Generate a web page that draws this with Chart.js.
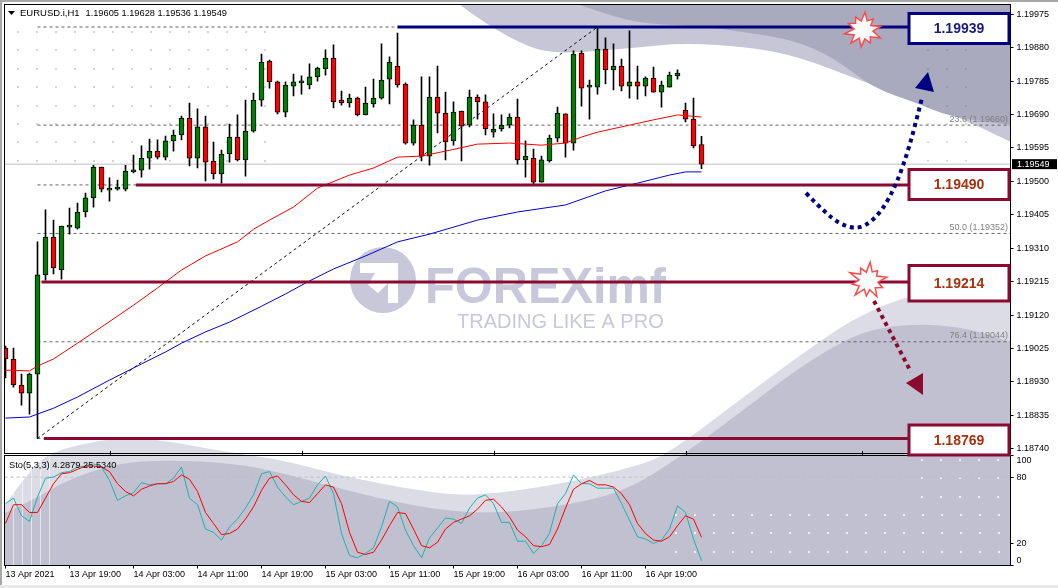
<!DOCTYPE html>
<html>
<head>
<meta charset="utf-8">
<title>EURUSD.i,H1</title>
<script src="https://cdn.jsdelivr.net/npm/chart.js@4/dist/chart.umd.min.js"></script>
<style>
  html, body { margin: 0; padding: 0; background: #fff; }
  canvas { display: block; }
</style>
</head>
<body>
<canvas id="fxChart" width="1058" height="588"></canvas>
<script>
// candles, one per hour
var opens = [1.19026,1.18995,1.18921,1.18898,1.18952,1.19234,1.19342,1.19248,1.19370,1.19367,1.19413,1.19453,1.19541,1.19475,1.19478,1.19478,1.19527,1.19532,1.19566,1.19586,1.19569,1.19615,1.19632,1.19680,1.19566,1.19655,1.19558,1.19521,1.19578,1.19626,1.19561,1.19643,1.19731,1.19842,1.19783,1.19697,1.19771,1.19780,1.19774,1.19797,1.19820,1.19851,1.19731,1.19723,1.19737,1.19689,1.19720,1.19737,1.19791,1.19828,1.19777,1.19609,1.19660,1.19572,1.19740,1.19694,1.19615,1.19700,1.19660,1.19740,1.19726,1.19640,1.19649,1.19660,1.19683,1.19561,1.19566,1.19498,1.19558,1.19623,1.19692,1.19609,1.19865,1.19768,1.19768,1.19876,1.19817,1.19828,1.19771,1.19783,1.19771,1.19794,1.19754,1.19768,1.19800,1.19703,1.19677,1.19605];
var highs = [1.19032,1.19026,1.18952,1.18955,1.19328,1.19419,1.19390,1.19373,1.19424,1.19438,1.19467,1.19546,1.19541,1.19510,1.19504,1.19546,1.19575,1.19601,1.19620,1.19618,1.19629,1.19646,1.19686,1.19723,1.19706,1.19686,1.19612,1.19589,1.19663,1.19689,1.19731,1.19751,1.19862,1.19845,1.19785,1.19783,1.19805,1.19800,1.19834,1.19825,1.19874,1.19888,1.19757,1.19748,1.19740,1.19768,1.19791,1.19891,1.19854,1.19922,1.19780,1.19675,1.19797,1.19797,1.19828,1.19754,1.19726,1.19700,1.19760,1.19746,1.19746,1.19692,1.19689,1.19692,1.19734,1.19615,1.19592,1.19572,1.19632,1.19711,1.19692,1.19871,1.19871,1.19788,1.19936,1.19908,1.19891,1.19848,1.19928,1.19828,1.19797,1.19825,1.19785,1.19811,1.19817,1.19723,1.19737,1.19628];
var lows = [1.18941,1.18915,1.18864,1.18838,1.18769,1.19219,1.19237,1.19222,1.19350,1.19364,1.19399,1.19427,1.19470,1.19444,1.19475,1.19473,1.19524,1.19512,1.19535,1.19564,1.19561,1.19586,1.19618,1.19544,1.19538,1.19501,1.19507,1.19495,1.19555,1.19558,1.19515,1.19640,1.19714,1.19765,1.19692,1.19683,1.19743,1.19748,1.19763,1.19785,1.19802,1.19709,1.19717,1.19711,1.19686,1.19689,1.19711,1.19734,1.19720,1.19768,1.19606,1.19603,1.19558,1.19546,1.19638,1.19561,1.19603,1.19558,1.19655,1.19677,1.19632,1.19626,1.19643,1.19652,1.19549,1.19512,1.19492,1.19498,1.19555,1.19612,1.19569,1.19589,1.19714,1.19677,1.19748,1.19777,1.19760,1.19757,1.19737,1.19734,1.19743,1.19754,1.19711,1.19768,1.19791,1.19669,1.19595,1.19536];
var closes = [1.18995,1.18921,1.18898,1.18952,1.19234,1.19342,1.19254,1.19373,1.19372,1.19413,1.19453,1.19541,1.19478,1.19481,1.19478,1.19529,1.19531,1.19566,1.19586,1.19569,1.19615,1.19632,1.19680,1.19566,1.19655,1.19555,1.19521,1.19578,1.19626,1.19561,1.19643,1.19731,1.19839,1.19783,1.19697,1.19774,1.19783,1.19781,1.19797,1.19822,1.19851,1.19726,1.19723,1.19737,1.19689,1.19723,1.19737,1.19788,1.19839,1.19774,1.19609,1.19660,1.19572,1.19740,1.19694,1.19612,1.19697,1.19657,1.19740,1.19726,1.19649,1.19649,1.19660,1.19683,1.19561,1.19572,1.19498,1.19561,1.19623,1.19694,1.19609,1.19862,1.19765,1.19769,1.19876,1.19817,1.19828,1.19771,1.19783,1.19771,1.19794,1.19754,1.19774,1.19802,1.19808,1.19677,1.19601,1.19549];

// moving averages, sampled at these bar numbers
var redMaBars = [0,1,3,4,6,9,12,16,19,22,25,29,31,33,36,39,43,46,49,52,55,59,63,67,70,72,74,78,81,84,87];
var redMaValues = [1.18963,1.18963,1.18961,1.18975,1.18995,1.19040,1.19086,1.19148,1.19197,1.19248,1.19288,1.19328,1.19364,1.19390,1.19427,1.19481,1.19518,1.19538,1.19569,1.19572,1.19586,1.19606,1.19609,1.19603,1.19609,1.19626,1.19640,1.19660,1.19675,1.19689,1.19683];
var blueMaBars = [0,3,6,9,13,17,20,22,25,28,32,35,38,41,45,49,53,59,64,70,75,79,83,85,87];
var blueMaValues = [1.18827,1.18830,1.18855,1.18887,1.18935,1.18981,1.19015,1.19040,1.19072,1.19100,1.19145,1.19180,1.19217,1.19251,1.19288,1.19328,1.19350,1.19390,1.19413,1.19433,1.19473,1.19495,1.19518,1.19527,1.19527];

// stochastic, one value per bar
var stoMain = [56,61,45,40,62,79,80,84,85,89,90,92,89,77,59,63,66,75,73,74,74,79,89,61,55,33,30,23,35,42,52,64,83,85,71,62,55,58,61,73,81,65,29,9,7,11,16,35,58,53,32,18,7,25,34,43,42,38,52,61,64,56,39,39,22,22,11,18,29,56,65,82,74,74,70,70,70,56,41,26,24,20,23,33,54,48,24,4.29];
var stoSignal = [38,55,55,48,48,61,74,83,84,87,90,90,89,85,74,67,63,69,72,74,74,76,82,78,67,48,38,28,29,33,42,53,68,79,81,73,64,58,57,65,73,71,56,30,12,10,12,23,36,48,47,33,18,16,21,33,39,42,45,51,59,60,53,44,32,26,18,17,19,33,52,69,74,77,73,73,71,65,55,38,29,23,22,26,36,45,42,25.53];

// axes
var priceTicks = [1.19975,1.19880,1.19785,1.19690,1.19595,1.19500,1.19405,1.19310,1.19215,1.19120,1.19025,1.18930,1.18835,1.18740];
var stoTicks = [0,20,80,100];
var timeTickBars = [0,8,16,24,32,40,48,56,64,72,80];
var timeLabels = ["13 Apr 2021","13 Apr 19:00","14 Apr 03:00","14 Apr 11:00","14 Apr 19:00","15 Apr 03:00","15 Apr 11:00","15 Apr 19:00","16 Apr 03:00","16 Apr 11:00","16 Apr 19:00"];
var mainPaneTickBars = [13,37,61,85,107];

// fibonacci levels and the marked levels
var fibPercents = ["0.0","23.6","38.2","50.0","61.8","76.4","100.0"];
var fibPrices = [1.19939,1.19660,1.19490,1.19352,1.19214,1.19044,1.18769];
var keyLevels = [1.19939,1.19490,1.19214,1.18769];
var keyLevelStarts = [49,16.3,4.5,4.8];
var lastPrice = 1.19549;

var navy = "#000080";
var maroon = "#8b0a30";
var labelFont = "'Liberation Sans', Arial, sans-serif";

var barNumbers = opens.map(function (v, i) { return i; });
var axisMin = -0.125, axisMax = 125.625;
var keyLevelEnd = 113;

function toPoints(bars, values) {
  return bars.map(function (b, i) { return { x: b, y: values[i] }; });
}
function flatLine(from, to, value) {
  return [{ x: from, y: value }, { x: to, y: value }];
}
function lineSet(data, color, width, axis, dash, order) {
  return {
    type: "line", data: data, borderColor: color, borderWidth: width,
    borderDash: dash || [], pointRadius: 0, tension: 0, yAxisID: axis, order: order, fill: false
  };
}

var datasets = [];
datasets.push(lineSet(flatLine(axisMin, axisMax, lastPrice), "#c0c0c0", 1, "y", null, 9));
fibPrices.forEach(function (p) {
  datasets.push(lineSet(flatLine(4, axisMax, p), "#666666", 1, "y", [3, 3], 8));
});
datasets.push(lineSet([{ x: 4, y: fibPrices[6] }, { x: 74, y: fibPrices[0] }], "#111111", 1, "y", [3, 3], 8));
datasets.push({
  type: "bar", label: "wicks", yAxisID: "y", order: 5, grouped: false, barThickness: 1,
  backgroundColor: "#000000",
  data: barNumbers.map(function (i) { return { x: i, y: [lows[i], highs[i]] }; })
});
datasets.push({
  type: "bar", label: "bodies", yAxisID: "y", order: 4, grouped: false, barThickness: 5,
  minBarLength: 2, borderWidth: 1, borderColor: "#000000", borderSkipped: false,
  backgroundColor: barNumbers.map(function (i) { return closes[i] >= opens[i] ? "#008000" : "#ff0000"; }),
  data: barNumbers.map(function (i) { return { x: i, y: [opens[i], closes[i]] }; })
});
datasets.push(lineSet(toPoints(redMaBars, redMaValues), "#ff0000", 1, "y", null, 3));
datasets.push(lineSet(toPoints(blueMaBars, blueMaValues), "#0000dd", 1, "y", null, 3));
keyLevels.forEach(function (p, i) {
  datasets.push(lineSet(flatLine(keyLevelStarts[i], keyLevelEnd, p), i === 0 ? navy : maroon, 3, "y", null, 2));
});
datasets.push(lineSet(flatLine(axisMin, axisMax, 80), "#bdbdc4", 1, "y2", [3, 3], 8));
datasets.push(lineSet(toPoints(barNumbers, stoMain), "#20b2aa", 1, "y2", null, 3));
datasets.push(lineSet(toPoints(barNumbers, stoSignal), "#ff0000", 1, "y2", null, 2));

// smooth path through points using midpoints
function smoothPath(ctx, pts, start) {
  if (start) ctx.moveTo(pts[0][0], pts[0][1]); else ctx.lineTo(pts[0][0], pts[0][1]);
  for (var i = 1; i < pts.length - 1; i++) {
    var mx = (pts[i][0] + pts[i + 1][0]) / 2, my = (pts[i][1] + pts[i + 1][1]) / 2;
    ctx.quadraticCurveTo(pts[i][0], pts[i][1], mx, my);
  }
  ctx.lineTo(pts[pts.length - 1][0], pts[pts.length - 1][1]);
}
function polygon(ctx, pts, color) {
  ctx.fillStyle = color;
  ctx.beginPath();
  pts.forEach(function (p, i) { if (i) ctx.lineTo(p[0], p[1]); else ctx.moveTo(p[0], p[1]); });
  ctx.closePath();
  ctx.fill();
}
function dotGrid(ctx, xs, ys, color) {
  ctx.fillStyle = color;
  xs.forEach(function (x) {
    ys.forEach(function (y) { ctx.fillRect(Math.round(x) - 1, Math.round(y) - 1, 2, 2); });
  });
}
function steps(from, step, count) {
  var out = [];
  for (var i = 0; i < count; i++) out.push(from + step * i);
  return out;
}

// the picture behind the chart: shaded waves, dot grids, watermark
var backdrop = {
  id: "backdrop",
  beforeDatasetsDraw: function (chart) {
    var ctx = chart.ctx;
    ctx.save();
    ctx.beginPath();
    ctx.rect(4.5, 4.5, 1006, 561);
    ctx.clip();

    var lightTop = [[460,5],[487,25],[530,48],[557,53],[583,52],[633,48],[683,43],[750,47],[800,57],[867,83],[950,113],[1011,142]];
    ctx.fillStyle = "#c6c6d6";
    ctx.beginPath();
    smoothPath(ctx, lightTop, true);
    ctx.lineTo(1011, 5);
    ctx.closePath();
    ctx.fill();

    var darkTop = [[580,5],[617,18],[650,24],[700,26],[750,33],[793,40],[833,57],[873,88],[917,103],[950,117],[1011,125]];
    ctx.fillStyle = "#aaaabf";
    ctx.beginPath();
    smoothPath(ctx, darkTop, true);
    ctx.lineTo(1011, 5);
    ctx.closePath();
    ctx.fill();

    var lightWave = [[5,505],[33,465],[60,448],[133,435],[233,453],[283,460],[350,478],[450,496],[500,493],[567,483],[633,467],[667,455],[750,392],[817,343],[860,315],[910,295],[960,288],[1011,290]];
    ctx.fillStyle = "#dcdce6";
    ctx.beginPath();
    smoothPath(ctx, lightWave, true);
    ctx.lineTo(1011, 566);
    ctx.lineTo(5, 566);
    ctx.closePath();
    ctx.fill();

    var darkWave = [[5,513],[33,500],[67,480],[117,463],[167,460],[233,463],[283,473],[333,487],[417,507],[483,514],[550,508],[623,493],[683,455],[750,405],[800,367],[850,337],[883,327],[923,324],[967,328],[1011,342]];
    ctx.fillStyle = "#c0c0d0";
    ctx.beginPath();
    smoothPath(ctx, darkWave, true);
    ctx.lineTo(1011, 566);
    ctx.lineTo(5, 566);
    ctx.closePath();
    ctx.fill();

    // pale stripes at the left of the lower pane
    ctx.strokeStyle = "rgba(255,255,255,0.55)";
    ctx.lineWidth = 1;
    [13.5, 22.5, 31.5, 40.5, 49.5].forEach(function (x) {
      ctx.beginPath();
      ctx.moveTo(x, 456);
      ctx.lineTo(x, 565);
      ctx.stroke();
    });

    var rows = [32, 50, 68.5, 87, 106, 124, 142, 161];
    dotGrid(ctx, steps(17.5, 19, 14), rows, "#d4d4e0");
    dotGrid(ctx, [928, 947, 966], rows.slice(1, 5), "#9a9aae");
    dotGrid(ctx, [928, 947, 966], rows.slice(5), "#dcdce2");
    dotGrid(ctx, steps(676, 19, 18), [515, 533, 552], "#eeeef4");
    dotGrid(ctx, steps(922, 19, 5), [460, 478, 497], "#eeeef4");

    // watermark
    ctx.fillStyle = "#c8c8da";
    ctx.beginPath();
    ctx.arc(383, 280, 33, 0, Math.PI * 2);
    ctx.fill();
    polygon(ctx, [[360,263],[398,263],[398,303],[388,303],[388,283],[378,293],[368,285],[375,273],[360,273]], "#ffffff");
    ctx.fillStyle = "#c8c8da";
    ctx.textAlign = "left";
    ctx.textBaseline = "alphabetic";
    ctx.font = "bold 50px " + labelFont;
    ctx.fillText("FOREXimf", 425, 303, 241);
    ctx.font = "20px " + labelFont;
    ctx.fillText("TRADING LIKE A PRO", 457, 328, 208);
    ctx.restore();
  }
};

var starOne = [18,10,19,10,15,9,17,9,18,10,19,9,16,10,15,9,18,10,15,9];
var starTwo = [19,10,16,10,18,9,15,9,19,10,16,9,20,10,15,9,19,10,14,10];
function star(ctx, cx, cy, radii) {
  var pts = radii.map(function (r, i) {
    var a = i / radii.length * Math.PI * 2 - 0.2;
    return [cx + Math.cos(a) * r, cy + Math.sin(a) * r];
  });
  polygon(ctx, pts, "#ffffff");
  ctx.strokeStyle = "#ff4a4a";
  ctx.lineWidth = 1.5;
  ctx.stroke();
}
function dottedArrow(ctx, pts, head, color) {
  ctx.strokeStyle = color;
  ctx.lineWidth = 4;
  ctx.setLineDash([4, 4]);
  ctx.beginPath();
  smoothPath(ctx, pts, true);
  ctx.stroke();
  ctx.setLineDash([]);
  polygon(ctx, head, color);
}
function levelBox(ctx, y1, y2, price, color, textColor) {
  ctx.fillStyle = "#ffffff";
  ctx.fillRect(909, y1, 100, y2 - y1);
  ctx.strokeStyle = color;
  ctx.lineWidth = 3;
  ctx.strokeRect(909, y1, 100, y2 - y1);
  ctx.fillStyle = textColor;
  ctx.font = "bold 14px " + labelFont;
  ctx.textAlign = "center";
  ctx.textBaseline = "middle";
  ctx.fillText(price.toFixed(5), 959, (y1 + y2) / 2 + 1);
}

// frame, texts and the drawn annotations on top of the data
var overlay = {
  id: "overlay",
  afterDraw: function (chart) {
    var ctx = chart.ctx, x = chart.scales.x, y = chart.scales.y;

    ctx.strokeStyle = "#000000";
    ctx.lineWidth = 1;
    ctx.strokeRect(4.5, 4.5, 1006, 449);
    ctx.strokeRect(4.5, 455.5, 1006, 110);
    ctx.beginPath();
    mainPaneTickBars.forEach(function (b) {
      var px = Math.round(x.getPixelForValue(b)) + 0.5;
      ctx.moveTo(px, 451);
      ctx.lineTo(px, 456);
    });
    ctx.stroke();

    // window edges
    ctx.fillStyle = "#a8a8a8";
    ctx.fillRect(0, 0, 2, 588);
    ctx.fillRect(0, 0, 1058, 2);
    ctx.fillStyle = "#e9e9e9";
    ctx.fillRect(0, 585, 1058, 3);

    // header texts
    polygon(ctx, [[8, 11], [15, 11], [11.5, 15]], "#000000");
    ctx.fillStyle = "#000000";
    ctx.textAlign = "left";
    ctx.textBaseline = "middle";
    ctx.font = "9.5px " + labelFont;
    ctx.fillText("EURUSD.i,H1", 20, 13);
    ctx.font = "9.25px " + labelFont;
    ctx.fillText("1.19605 1.19628 1.19536 1.19549", 85.5, 13);
    ctx.fillText("Sto(5,3,3) 4.2879 25.5340", 9, 465);

    // fibonacci captions
    ctx.fillStyle = "#808080";
    ctx.textAlign = "right";
    ctx.font = "9px " + labelFont;
    [1, 3, 5].forEach(function (i) {
      ctx.fillText(fibPercents[i] + " (" + fibPrices[i].toFixed(5) + ")", 1008, y.getPixelForValue(fibPrices[i]) - 6);
    });

    // last price tag
    var py = y.getPixelForValue(lastPrice);
    ctx.fillStyle = "#000000";
    ctx.fillRect(1012, py - 5, 45, 10);
    ctx.fillStyle = "#ffffff";
    ctx.textAlign = "left";
    ctx.fillText(lastPrice.toFixed(5), 1017, py + 0.5);

    dottedArrow(ctx, [[806,193],[828,216],[848,228],[865,227],[882,211],[897,183],[910,145],[922,98]],
      [[928,72],[915,88],[934,92]], navy);
    dottedArrow(ctx, [[874,301],[911,372]], [[923,373],[923,395],[906,383]], maroon);
    star(ctx, 863, 30, starOne);
    star(ctx, 868, 281, starTwo);

    levelBox(ctx, 13.5, 43.5, keyLevels[0], navy, "#1a1a80");
    levelBox(ctx, 169.5, 199.5, keyLevels[1], maroon, "#a83210");
    levelBox(ctx, 265.5, 301, keyLevels[2], maroon, "#a83210");
    levelBox(ctx, 425, 455, keyLevels[3], maroon, "#a83210");
  }
};

var tickStyle = { color: "#000000", font: { family: labelFont, size: 9 } };

// no label overflow padding, the plot area has to stay where it is
function noPadding(s) {
  s.paddingTop = 0;
  s.paddingBottom = 0;
  s.paddingLeft = 0;
  s.paddingRight = 0;
}

new Chart(document.getElementById("fxChart"), {
  data: { datasets: datasets },
  plugins: [backdrop, overlay],
  options: {
    responsive: false,
    animation: false,
    layout: { autoPadding: false, padding: { left: 4.5, top: 4.5, right: 0, bottom: 0 } },
    plugins: { legend: { display: false }, title: { display: false }, tooltip: { enabled: false } },
    scales: {
      x: {
        type: "linear", position: "bottom", min: axisMin, max: axisMax, offset: false,
        grid: { offset: false, drawOnChartArea: false, color: "#000000", tickLength: 3 },
        border: { color: "#000000" },
        afterBuildTicks: function (s) { s.ticks = timeTickBars.map(function (b) { return { value: b }; }); },
        afterFit: function (s) { s.height = 22.5; noPadding(s); },
        ticks: {
          color: tickStyle.color, font: tickStyle.font, align: "start", padding: 1,
          autoSkip: false, maxRotation: 0, minRotation: 0,
          callback: function (v, i) { return timeLabels[i]; }
        }
      },
      y: {
        type: "linear", position: "right", stack: "panes", stackWeight: 450.5,
        min: 1.18722, max: 1.20003,
        grid: { drawOnChartArea: false, color: "#000000", tickLength: 3 },
        border: { color: "#000000" },
        afterBuildTicks: function (s) { s.ticks = priceTicks.map(function (v) { return { value: v }; }); },
        afterFit: function (s) { s.width = 47.5; noPadding(s); },
        ticks: {
          color: tickStyle.color, font: tickStyle.font, padding: 3, autoSkip: false,
          callback: function (v) { return v.toFixed(5); }
        }
      },
      y2: {
        type: "linear", position: "right", stack: "panes", stackWeight: 110.5, min: 0, max: 100,
        grid: { drawOnChartArea: false, color: "#000000", tickLength: 3 },
        border: { color: "#000000" },
        afterBuildTicks: function (s) { s.ticks = stoTicks.map(function (v) { return { value: v }; }); },
        afterFit: function (s) { s.width = 47.5; noPadding(s); },
        ticks: {
          color: tickStyle.color, font: tickStyle.font, padding: 3, autoSkip: false,
          // keep the end labels inside the pane
          callback: function (v) {
            if (v === 100) return ["", "100"];
            if (v === 0) return ["0", ""];
            return String(v);
          }
        }
      }
    }
  }
});
</script>
</body>
</html>
